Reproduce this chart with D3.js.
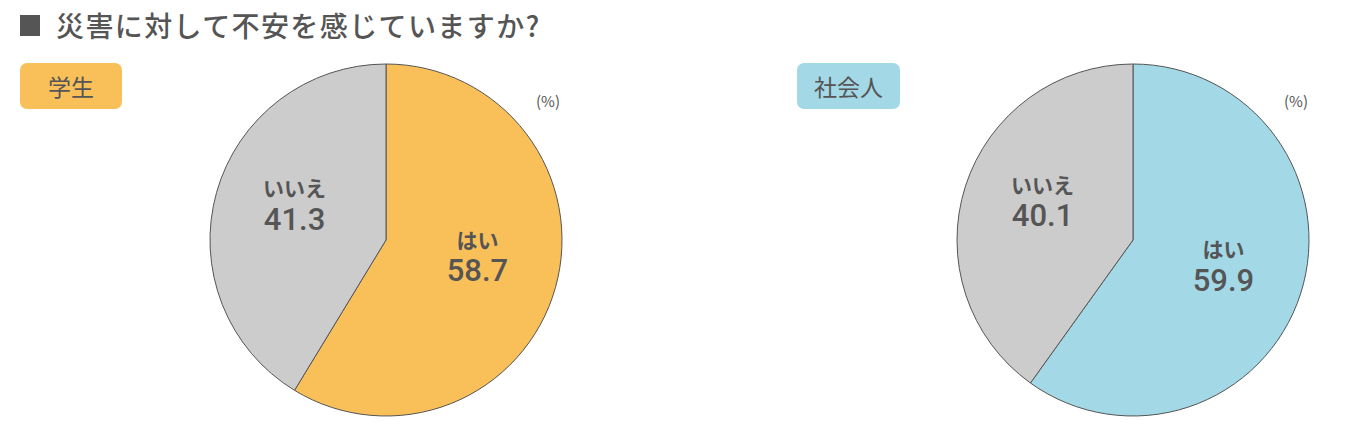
<!DOCTYPE html>
<html>
<head>
<meta charset="utf-8">
<script src="https://cdn.jsdelivr.net/npm/d3@7.9.0/dist/d3.min.js"></script>
<style>
  body { margin: 0; background: #fff; }
  svg { display: block; }
  text { font-family: "Noto Sans CJK JP", sans-serif; fill: #555; }
  .num { font-family: Roboto, "Noto Sans", sans-serif; font-weight: 500; }
</style>
</head>
<body>
<svg id="chart" width="1345" height="436"></svg>
<script>
const title = "災害に対して不安を感じていますか?";
const groups = ["学生", "社会人"];
const answers = ["はい", "いいえ"];
const studentValues = [58.7, 41.3];
const workerValues = [59.9, 40.1];
const unitLabel = "(%)";

const svg = d3.select("#chart");

// title with grey square
svg.append("rect")
  .attr("x", 20).attr("y", 15).attr("width", 20).attr("height", 21)
  .attr("fill", "#555");
svg.append("text")
  .attr("x", 56).attr("y", 25)
  .attr("dominant-baseline", "central")
  .attr("font-size", 28)
  .attr("font-weight", 500)
  .attr("letter-spacing", 1.4)
  .text(title);

const panels = [
  { name: groups[0], values: studentValues, color: "#f9c05a", cx: 386, badgeX: 20, badgeW: 102, unitX: 548, shift: 0 },
  { name: groups[1], values: workerValues, color: "#a3d8e6", cx: 1133, badgeX: 797, badgeW: 103, unitX: 1296, shift: 6 }
];

const radius = 176;
const cy = 240;
const pie = d3.pie().sort(null).value((d) => d.value);
const arc = d3.arc().innerRadius(0).outerRadius(radius);
const labelArc = d3.arc().innerRadius(95).outerRadius(95);

panels.forEach((p) => {
  const data = answers.map((a, i) => ({ label: a, value: p.values[i] }));
  const colors = d3.scaleOrdinal().domain(answers).range([p.color, "#cccccc"]);

  // group badge
  svg.append("rect")
    .attr("x", p.badgeX).attr("y", 63)
    .attr("width", p.badgeW).attr("height", 46)
    .attr("rx", 7)
    .attr("fill", p.color);
  svg.append("text")
    .attr("x", p.badgeX + p.badgeW / 2).attr("y", 86)
    .attr("text-anchor", "middle")
    .attr("dominant-baseline", "central")
    .attr("font-size", 23)
    .attr("font-weight", 400)
    .text(p.name);

  svg.append("text")
    .attr("x", p.unitX).attr("y", 100)
    .attr("text-anchor", "middle")
    .attr("dominant-baseline", "central")
    .attr("font-size", 15)
    .text(unitLabel);

  const g = svg.append("g").attr("transform", `translate(${p.cx},${cy})`);
  const arcs = pie(data);

  g.selectAll("path")
    .data(arcs)
    .join("path")
    .attr("d", arc)
    .attr("fill", (d) => colors(d.data.label))
    .attr("stroke", "#555")
    .attr("stroke-width", 1);

  arcs.forEach((d, i) => {
    const [x, y0] = labelArc.centroid(d);
    const y = i === 0 ? y0 + p.shift : y0;
    g.append("text")
      .attr("x", x).attr("y", y - 27)
      .attr("text-anchor", "middle")
      .attr("dominant-baseline", "central")
      .attr("font-size", 21)
      .attr("font-weight", 700)
      .text(d.data.label);
    g.append("text")
      .attr("class", "num")
      .attr("x", x).attr("y", y + 5)
      .attr("text-anchor", "middle")
      .attr("dominant-baseline", "central")
      .attr("font-size", 31)
      .text(d.data.value.toFixed(1));
  });
});
</script>
</body>
</html>
